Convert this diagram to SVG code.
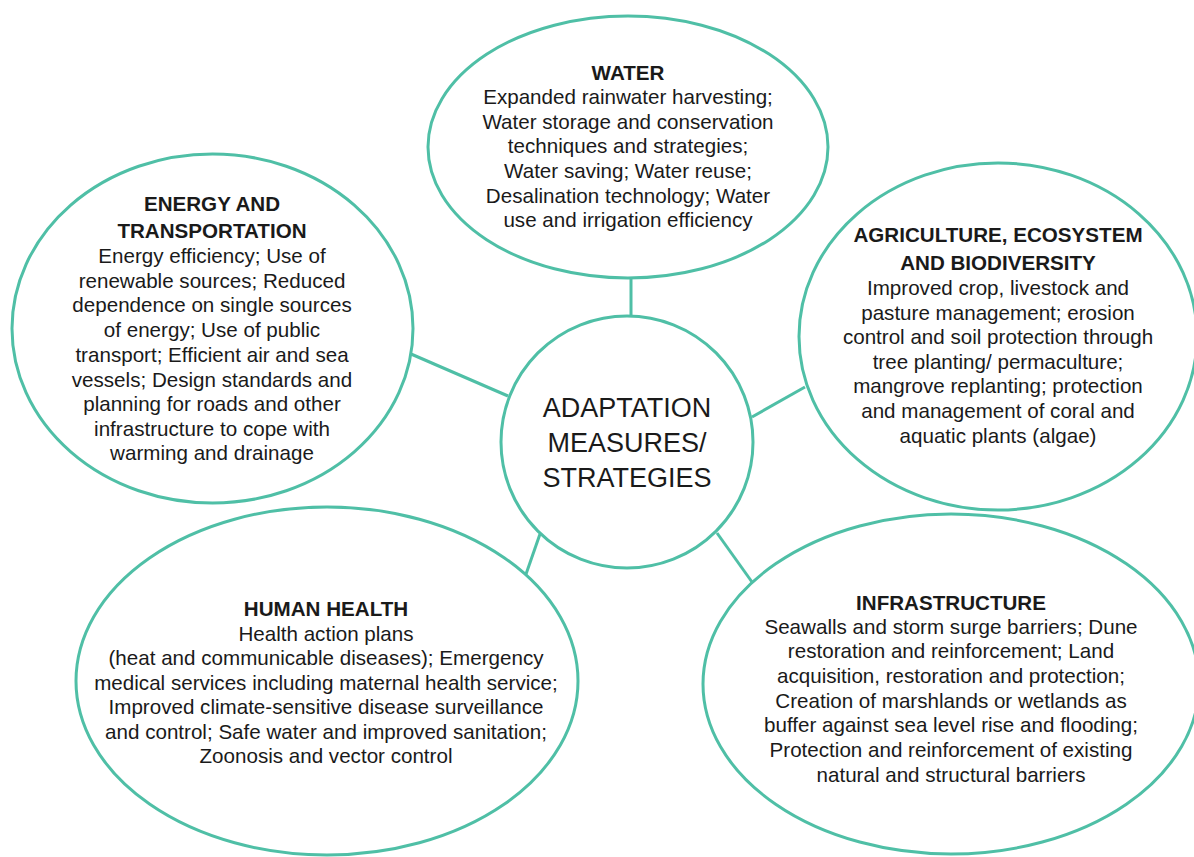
<svg xmlns="http://www.w3.org/2000/svg" width="1194" height="857" viewBox="0 0 1194 857">
<style>
.bub{fill:#ffffff;stroke:#4fbfa6;stroke-width:3}
.con line{stroke:#4fbfa6;stroke-width:3}
text{font-family:"Liberation Sans",Arial,sans-serif;fill:#1a1a1a;text-anchor:middle}
.t{font-size:20.6px}
.h{font-size:20.6px;font-weight:bold}
.c{font-size:27px}
</style>
<rect width="1194" height="857" fill="#ffffff"/>
<g id="connectors" class="con">
<line x1="631" y1="278" x2="631" y2="316"/>
<line x1="411" y1="354" x2="508" y2="396"/>
<line x1="752" y1="417" x2="805" y2="387"/>
<line x1="540" y1="534" x2="525" y2="577"/>
<line x1="717" y1="533" x2="752" y2="582"/>
</g>
<g id="water">
<ellipse class="bub" cx="628" cy="147" rx="200" ry="131"/>
<text class="h" x="628" y="80">WATER</text>
<text class="t" x="628" y="104">Expanded rainwater harvesting;</text>
<text class="t" x="628" y="129">Water storage and conservation</text>
<text class="t" x="628" y="153">techniques and strategies;</text>
<text class="t" x="628" y="178">Water saving; Water reuse;</text>
<text class="t" x="628" y="203">Desalination technology; Water</text>
<text class="t" x="628" y="227">use and irrigation efficiency</text>
</g>
<g id="energy">
<ellipse class="bub" cx="212.5" cy="328.5" rx="200.5" ry="174.5"/>
<text class="h" x="212" y="211">ENERGY AND</text>
<text class="h" x="212" y="238">TRANSPORTATION</text>
<text class="t" x="212" y="263">Energy efficiency; Use of</text>
<text class="t" x="212" y="288">renewable sources; Reduced</text>
<text class="t" x="212" y="312">dependence on single sources</text>
<text class="t" x="212" y="337">of energy; Use of public</text>
<text class="t" x="212" y="362">transport; Efficient air and sea</text>
<text class="t" x="212" y="387">vessels; Design standards and</text>
<text class="t" x="212" y="411">planning for roads and other</text>
<text class="t" x="212" y="436">infrastructure to cope with</text>
<text class="t" x="212" y="460">warming and drainage</text>
</g>
<g id="agriculture">
<ellipse class="bub" cx="998" cy="336.5" rx="199" ry="173.5"/>
<text class="h" x="998" y="242">AGRICULTURE, ECOSYSTEM</text>
<text class="h" x="998" y="270">AND BIODIVERSITY</text>
<text class="t" x="998" y="295">Improved crop, livestock and</text>
<text class="t" x="998" y="320">pasture management; erosion</text>
<text class="t" x="998" y="344">control and soil protection through</text>
<text class="t" x="998" y="369">tree planting/ permaculture;</text>
<text class="t" x="998" y="393">mangrove replanting; protection</text>
<text class="t" x="998" y="418">and management of coral and</text>
<text class="t" x="998" y="443">aquatic plants (algae)</text>
</g>
<g id="health">
<ellipse class="bub" cx="327" cy="681" rx="251" ry="174"/>
<text class="h" x="326" y="616">HUMAN HEALTH</text>
<text class="t" x="326" y="641">Health action plans</text>
<text class="t" x="326" y="665">(heat and communicable diseases); Emergency</text>
<text class="t" x="326" y="690">medical services including maternal health service;</text>
<text class="t" x="326" y="714">Improved climate-sensitive disease surveillance</text>
<text class="t" x="326" y="739">and control; Safe water and improved sanitation;</text>
<text class="t" x="326" y="763">Zoonosis and vector control</text>
</g>
<g id="infrastructure">
<ellipse class="bub" cx="951" cy="684" rx="248" ry="170"/>
<text class="h" x="951" y="610">INFRASTRUCTURE</text>
<text class="t" x="951" y="634">Seawalls and storm surge barriers; Dune</text>
<text class="t" x="951" y="658">restoration and reinforcement; Land</text>
<text class="t" x="951" y="683">acquisition, restoration and protection;</text>
<text class="t" x="951" y="708">Creation of marshlands or wetlands as</text>
<text class="t" x="951" y="732">buffer against sea level rise and flooding;</text>
<text class="t" x="951" y="757">Protection and reinforcement of existing</text>
<text class="t" x="951" y="782">natural and structural barriers</text>
</g>
<g id="center">
<circle class="bub" cx="627" cy="442" r="126"/>
<text class="c" x="627" y="417">ADAPTATION</text>
<text class="c" x="627" y="452">MEASURES/</text>
<text class="c" x="627" y="487">STRATEGIES</text>
</g>
</svg>
